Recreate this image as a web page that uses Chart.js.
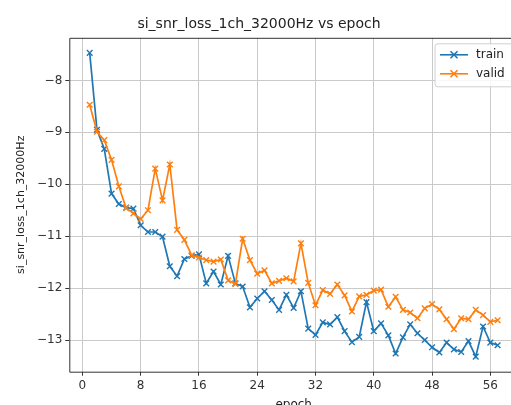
<!DOCTYPE html>
<html>
<head>
<meta charset="utf-8">
<script src="https://cdn.jsdelivr.net/npm/chart.js@4.4.1/dist/chart.umd.min.js"></script>
<style>
html,body{margin:0;padding:0;background:#fff;overflow:hidden;}
#wrap{width:530px;height:420px;position:relative;}
</style>
</head>
<body>
<div id="wrap"><canvas id="c"></canvas></div>
<script>
const epochs = [1,2,3,4,5,6,7,8,9,10,11,12,13,14,15,16,17,18,19,20,21,22,23,24,25,26,27,28,29,30,31,32,33,34,35,36,37,38,39,40,41,42,43,44,45,46,47,48,49,50,51,52,53,54,55,56,57];
const trainLoss = [-7.47,-8.95,-9.32,-10.18,-10.38,-10.45,-10.47,-10.79,-10.92,-10.92,-11.01,-11.58,-11.77,-11.44,-11.38,-11.35,-11.91,-11.68,-11.93,-11.38,-11.91,-11.97,-12.37,-12.2,-12.06,-12.23,-12.42,-12.13,-12.38,-12.06,-12.78,-12.9,-12.66,-12.7,-12.56,-12.83,-13.04,-12.94,-12.27,-12.83,-12.68,-12.91,-13.26,-12.95,-12.7,-12.87,-13.0,-13.14,-13.24,-13.05,-13.18,-13.23,-13.02,-13.32,-12.74,-13.05,-13.1];
const validLoss = [-8.47,-8.99,-9.15,-9.53,-10.04,-10.46,-10.56,-10.67,-10.5,-9.70,-10.31,-9.62,-10.88,-11.07,-11.37,-11.41,-11.46,-11.49,-11.45,-11.85,-11.92,-11.05,-11.46,-11.72,-11.66,-11.91,-11.86,-11.81,-11.87,-11.14,-11.9,-12.33,-12.04,-12.11,-11.93,-12.14,-12.45,-12.16,-12.13,-12.05,-12.03,-12.36,-12.17,-12.42,-12.47,-12.58,-12.39,-12.31,-12.41,-12.6,-12.79,-12.58,-12.6,-12.42,-12.52,-12.65,-12.62];
const xTicks = [0,8,16,24,32,40,48,56];
const yTicks = [-8,-9,-10,-11,-12,-13];
const seriesNames = ['train','valid'];
const seriesColors = ['#1f77b4','#ff7f0e'];
const titleText = 'si_snr_loss_1ch_32000Hz vs epoch';
const yLabel = 'si_snr_loss_1ch_32000Hz';
const xLabel = 'epoch';

const FONT = 'DejaVu Sans';
const toPts = arr => arr.map((v,i)=>({x:epochs[i], y:v}));
const fmt = v => String(v).replace('-', '\u2212');

const spinePlugin = {
  id:'spines',
  afterDatasetsDraw(chart){
    const {ctx, chartArea:a} = chart;
    ctx.save();
    ctx.strokeStyle = '#333';
    ctx.lineWidth = 1;
    ctx.beginPath();
    ctx.moveTo(a.right+2, a.top+0.5);
    ctx.lineTo(a.left+0.5, a.top+0.5);
    ctx.lineTo(a.left+0.5, a.bottom+0.5);
    ctx.lineTo(a.right+2, a.bottom+0.5);
    ctx.stroke();
    ctx.restore();
  }
};

const legendPlugin = {
  id:'mplLegend',
  afterDraw(chart){
    const ctx = chart.ctx;
    const a = chart.chartArea;
    const right = a.right + 10, top = a.top + 6;
    const left = 435, bottom = top + 43;
    ctx.save();
    ctx.beginPath();
    const r = 3;
    ctx.moveTo(right, top);
    ctx.lineTo(left+r, top); ctx.quadraticCurveTo(left, top, left, top+r);
    ctx.lineTo(left, bottom-r); ctx.quadraticCurveTo(left, bottom, left+r, bottom);
    ctx.lineTo(right, bottom);
    ctx.fillStyle = 'rgba(255,255,255,0.85)';
    ctx.fill();
    ctx.strokeStyle = '#d0d0d0';
    ctx.lineWidth = 1;
    ctx.stroke();
    seriesNames.forEach((name,i)=>{
      const y = top + 11 + i*19;
      ctx.strokeStyle = seriesColors[i];
      ctx.lineWidth = 1.6;
      ctx.beginPath(); ctx.moveTo(440,y); ctx.lineTo(468,y); ctx.stroke();
      const cx = 454, s = 3.5;
      ctx.beginPath();
      ctx.moveTo(cx-s,y-s); ctx.lineTo(cx+s,y+s);
      ctx.moveTo(cx-s,y+s); ctx.lineTo(cx+s,y-s);
      ctx.stroke();
      ctx.fillStyle = '#222';
      ctx.font = '12px "' + FONT + '"';
      ctx.textBaseline = 'middle';
      ctx.textAlign = 'left';
      ctx.fillText(name, 476, y);
    });
    ctx.restore();
  }
};

const mkDs = (label, data, color, order) => ({
  label, data: toPts(data), borderColor: color, backgroundColor: color,
  borderWidth: 1.7, tension: 0, fill: false,
  pointStyle: 'crossRot', pointRadius: 4, pointBorderWidth: 1.4,
  pointBorderColor: color, pointHoverRadius: 4, order
});

new Chart(document.getElementById('c'), {
  type: 'line',
  data: {
    datasets: [
      mkDs(seriesNames[0], trainLoss, seriesColors[0], 1),
      mkDs(seriesNames[1], validLoss, seriesColors[1], 0)
    ]
  },
  options: {
    responsive: true,
    maintainAspectRatio: false,
    animation: false,
    devicePixelRatio: 1,
    layout: { padding: { left: 0, right: 12, top: 0, bottom: 0 } },
    plugins: {
      legend: { display: false },
      tooltip: { enabled: false },
      title: {
        display: true, text: titleText, color: '#222',
        font: { family: FONT, size: 14, weight: 'normal' },
        padding: { top: 16, bottom: 5 }
      }
    },
    scales: {
      x: {
        type: 'linear', min: -1.8, max: 59.8,
        afterBuildTicks: s => { s.ticks = xTicks.map(v=>({value:v})); },
        afterFit: s => { s.height = 48.3; },
        grid: { color: '#cacaca', lineWidth: 1, tickLength: 4, tickColor: '#333', drawOnChartArea: true },
        border: { display: false },
        ticks: { color: '#333', font: { family: FONT, size: 12 }, padding: 3, maxRotation: 0, callback: v => fmt(v) },
        title: { display: true, text: xLabel, color: '#222', font: { family: FONT, size: 12 }, padding: { top: 2, bottom: 8 } }
      },
      y: {
        type: 'linear', min: -13.61, max: -7.18,
        afterBuildTicks: s => { s.ticks = yTicks.map(v=>({value:v})); },
        afterFit: s => { s.width = 69.3; },
        grid: { color: '#cacaca', lineWidth: 1, tickLength: 4, tickColor: '#333' },
        border: { display: false },
        ticks: { color: '#333', font: { family: FONT, size: 12 }, padding: 3, callback: v => fmt(v) },
        title: { display: true, text: yLabel, color: '#222', font: { family: FONT, size: 11 }, padding: { top: 15, bottom: 0 } }
      }
    }
  },
  plugins: [spinePlugin, legendPlugin]
});
</script>
</body>
</html>
